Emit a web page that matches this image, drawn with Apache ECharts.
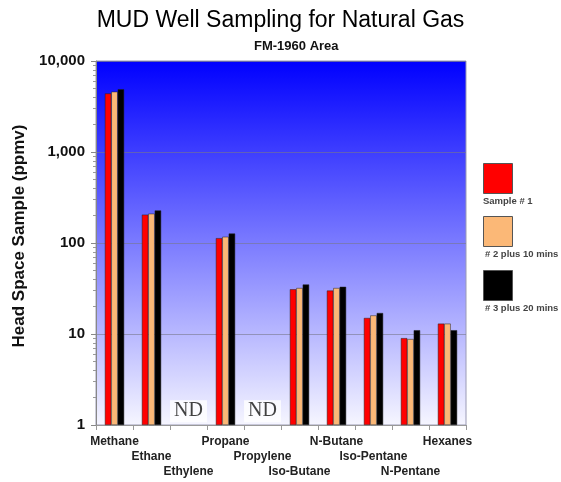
<!DOCTYPE html>
<html><head><meta charset="utf-8">
<script src="https://cdn.jsdelivr.net/npm/echarts@6/dist/echarts.min.js"></script>
<style>html,body{margin:0;padding:0;background:#fff}#c{width:561px;height:482px}</style>
</head><body><div id="c"></div>
<script>
const categories = ['Methane','Ethane','Ethylene','Propane','Propylene','Iso-Butane','N-Butane','Iso-Pentane','N-Pentane','Hexanes'];
const seriesNames = ['Sample # 1', '# 2 plus 10 mins', '# 3 plus 20 mins'];
const sample1 = [4400, 205, null, 113, null, 31, 30, 15, 9.0, 13];
const sample2 = [4600, 210, null, 117, null, 32, 32, 16, 8.8, 13];
const sample3 = [4900, 228, null, 127, null, 35, 33, 17, 11, 11];
const ndPoints = [[2, 1.42], [4, 1.42]];
const majorTicks = [1, 10, 100, 1000, 10000];
const minorTicks = [];
for (let d = 1; d <= 1000; d *= 10) for (let k = 2; k <= 9; k++) minorTicks.push(d * k);
const colors = ['#ff0000', '#fbb877', '#000000'];

const chart = echarts.init(document.getElementById('c'), null, {renderer: 'canvas'});
const legendTop = [163, 216, 270];
const graphics = [];
seriesNames.forEach((n, i) => {
  graphics.push({type: 'rect', left: 483, top: legendTop[i], shape: {width: 29, height: 30},
    style: {fill: colors[i], stroke: '#555', lineWidth: 1}});
  graphics.push({type: 'text', left: i === 0 ? 483 : 485, top: legendTop[i] + 33,
    style: {text: n, font: 'bold 9.5px "Liberation Sans", Arial', fill: '#444'}});
});

const barSeries = [sample1, sample2, sample3].map((d, i) => ({
  name: seriesNames[i], type: 'bar', data: d, barGap: 0, barCategoryGap: '48%',
  itemStyle: {color: colors[i], borderColor: '#222', borderWidth: 0.5}
}));

chart.setOption({
  animation: false,
  textStyle: {fontFamily: '"Liberation Sans", Arial, sans-serif'},
  title: [{
    text: 'MUD Well Sampling for Natural Gas', left: 'center', top: 4,
    textStyle: {fontSize: 23, fontWeight: 'normal', color: '#000'}
  }, {
    text: 'FM-1960 Area', left: 249, top: 35,
    textStyle: {fontSize: 13, fontWeight: 'bold', color: '#111'}
  }],
  grid: {left: 96, right: 95, top: 61, bottom: 57, show: true,
    borderColor: '#9a9ab4', borderWidth: 1,
    backgroundColor: new echarts.graphic.LinearGradient(0, 0, 0, 1, [
      {offset: 0, color: '#0000ff'}, {offset: 1, color: '#f6f6ff'}])},
  xAxis: {
    type: 'category', data: categories,
    axisLine: {lineStyle: {color: '#999'}},
    axisTick: {show: true, interval: 0, length: 5, lineStyle: {color: '#999'}},
    axisLabel: {interval: 0, margin: 9, fontSize: 12, fontWeight: 'bold', color: '#222', lineHeight: 15,
      formatter: (v, i) => '\n'.repeat(i % 3) + v}
  },
  yAxis: [{
    type: 'log', logBase: 10, min: 1, max: 10000,
    name: 'Head Space Sample (ppmv)', nameLocation: 'middle', nameGap: 67,
    nameTextStyle: {fontSize: 17, fontWeight: 'bold', color: '#111', padding: [0, 0, 0, 14]},
    axisLine: {show: true, lineStyle: {color: '#888'}},
    axisTick: {show: true, length: 5, lineStyle: {color: '#888'}},
    axisLabel: {fontSize: 15, fontWeight: 'bold', color: '#111', margin: 11,
      formatter: v => Number(v).toLocaleString('en-US')},
    splitLine: {show: true, lineStyle: {color: 'rgba(120,120,140,0.6)', width: 1}}
  }, {
    type: 'value', min: 0, max: 4, position: 'left', offset: 0,
    axisLine: {show: true, lineStyle: {color: 'rgba(0,0,0,0)'}},
    axisTick: {show: true, length: 3, lineStyle: {color: '#999'}, customValues: minorTicks.map(Math.log10)},
    axisLabel: {show: false}, splitLine: {show: false}
  }],
  series: [...barSeries, {
    type: 'scatter', data: ndPoints, symbolSize: 1, itemStyle: {color: 'rgba(0,0,0,0)'}, silent: true, z: 5,
    label: {show: true, position: 'inside', formatter: 'ND', fontFamily: '"Liberation Serif", "Times New Roman", serif',
      fontSize: 20, color: '#111', backgroundColor: '#fff', padding: [2, 4, 0, 4]}
  }],
  graphic: graphics
});
</script></body></html>
